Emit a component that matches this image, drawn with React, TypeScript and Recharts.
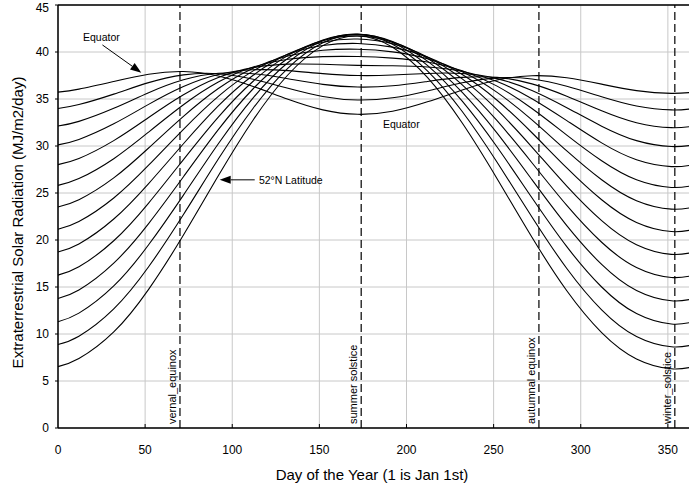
import React from "react";
import {
  LineChart,
  Line,
  XAxis,
  YAxis,
  CartesianGrid,
  ReferenceLine,
  ReferenceDot,
} from "recharts";

// Day of year at which each radiation value is given
const DAYS = [0, 12, 32, 52, 72, 92, 112, 132, 152, 172, 192, 212, 232, 252, 272, 292, 312, 332, 352, 365];

// Daily extraterrestrial radiation (MJ/m2/day), one list per northern latitude
const LAT_00 = [35.73, 36.05, 36.87, 37.64, 37.92, 37.45, 36.34, 34.97, 33.84, 33.37, 33.70, 34.70, 35.96, 37.02, 37.48, 37.26, 36.58, 35.89, 35.60, 35.73];
const LAT_04 = [33.99, 34.41, 35.52, 36.74, 37.57, 37.69, 37.10, 36.14, 35.27, 34.89, 35.13, 35.86, 36.72, 37.25, 37.13, 36.36, 35.24, 34.26, 33.84, 33.99];
const LAT_08 = [32.12, 32.62, 34.01, 35.67, 37.04, 37.74, 37.69, 37.16, 36.56, 36.27, 36.41, 36.87, 37.30, 37.30, 36.61, 35.30, 33.75, 32.48, 31.95, 32.12];
const LAT_12 = [30.12, 30.70, 32.36, 34.43, 36.33, 37.61, 38.11, 38.02, 37.70, 37.50, 37.55, 37.72, 37.71, 37.17, 35.91, 34.08, 32.11, 30.57, 29.94, 30.12];
const LAT_16 = [28.02, 28.67, 30.57, 33.03, 35.45, 37.29, 38.34, 38.71, 38.69, 38.58, 38.53, 38.41, 37.95, 36.86, 35.03, 32.70, 30.33, 28.54, 27.81, 28.02];
const LAT_20 = [25.81, 26.53, 28.65, 31.48, 34.39, 36.80, 38.40, 39.23, 39.51, 39.52, 39.35, 38.93, 38.01, 36.37, 33.99, 31.16, 28.43, 26.41, 25.59, 25.81];
const LAT_24 = [23.51, 24.29, 26.61, 29.79, 33.16, 36.12, 38.28, 39.58, 40.18, 40.29, 40.01, 39.28, 37.89, 35.70, 32.78, 29.48, 26.41, 24.18, 23.28, 23.51];
const LAT_28 = [21.14, 21.97, 24.47, 27.96, 31.78, 35.28, 37.99, 39.77, 40.69, 40.91, 40.52, 39.46, 37.60, 34.87, 31.41, 27.67, 24.28, 21.87, 20.90, 21.14];
const LAT_32 = [18.72, 19.58, 22.23, 26.00, 30.24, 34.26, 37.52, 39.78, 41.04, 41.38, 40.87, 39.48, 37.14, 33.86, 29.89, 25.73, 22.06, 19.50, 18.47, 18.72];
const LAT_36 = [16.26, 17.15, 19.92, 23.93, 28.56, 33.08, 36.89, 39.64, 41.23, 41.70, 41.06, 39.33, 36.51, 32.69, 28.22, 23.68, 19.76, 17.07, 16.01, 16.26];
const LAT_40 = [13.78, 14.69, 17.54, 21.75, 26.73, 31.74, 36.09, 39.33, 41.28, 41.87, 41.11, 39.03, 35.71, 31.37, 26.42, 21.53, 17.40, 14.62, 13.53, 13.78];
const LAT_44 = [11.31, 12.22, 15.11, 19.49, 24.78, 30.24, 35.13, 38.88, 41.19, 41.92, 41.02, 38.58, 34.77, 29.89, 24.49, 19.29, 15.00, 12.17, 11.06, 11.31];
const LAT_48 = [8.88, 9.77, 12.67, 17.15, 22.71, 28.61, 34.02, 38.29, 40.98, 41.85, 40.82, 38.00, 33.67, 28.27, 22.45, 16.97, 12.57, 9.73, 8.64, 8.88];
const LAT_52 = [6.53, 7.39, 10.22, 14.75, 20.53, 26.83, 32.77, 37.58, 40.68, 41.70, 40.51, 37.29, 32.44, 26.52, 20.29, 14.60, 10.15, 7.35, 6.30, 6.53];

const LATITUDES = [0, 4, 8, 12, 16, 20, 24, 28, 32, 36, 40, 44, 48, 52];
const SERIES = [LAT_00, LAT_04, LAT_08, LAT_12, LAT_16, LAT_20, LAT_24, LAT_28, LAT_32, LAT_36, LAT_40, LAT_44, LAT_48, LAT_52];

const X_TICKS = [0, 50, 100, 150, 200, 250, 300, 350];
const Y_TICKS = [0, 5, 10, 15, 20, 25, 30, 35, 40, 45];

// Seasonal markers (day of year, label)
const SEASON_DAYS = [70, 174, 276, 354];
const SEASON_LABELS = ["vernal_equinox", "summer solstice", "autumnal equinox", "winter_solstice"];

const rows = DAYS.map((day, i) => {
  const row: Record<string, number> = { day };
  LATITUDES.forEach((lat, k) => {
    row["lat" + lat] = SERIES[k][i];
  });
  return row;
});

const FONT = "'Liberation Sans', Arial, Helvetica, sans-serif";

function XTick(props: any) {
  const { x, y, payload } = props;
  return (
    <g>
      {payload.value !== 0 && (
        <line x1={x} y1={y} x2={x} y2={y - 4} stroke="#000" strokeWidth={1} />
      )}
      <text x={x} y={y + 26} textAnchor="middle" fontSize={12} fontFamily={FONT} fill="#000">
        {payload.value}
      </text>
    </g>
  );
}

function Arrow(props: any) {
  const { x1, y1, x2, y2 } = props;
  const ang = Math.atan2(y2 - y1, x2 - x1);
  const len = 11;
  const half = 4;
  const bx = x2 - len * Math.cos(ang);
  const by = y2 - len * Math.sin(ang);
  const px = -Math.sin(ang) * half;
  const py = Math.cos(ang) * half;
  return (
    <g>
      <line x1={x1} y1={y1} x2={bx} y2={by} stroke="#000" strokeWidth={1} />
      <polygon points={`${x2},${y2} ${bx + px},${by + py} ${bx - px},${by - py}`} fill="#000" />
    </g>
  );
}

function note(text: string, anchor: "start" | "middle") {
  return (p: any) => (
    <text
      x={p.cx}
      y={p.cy}
      dy="0.35em"
      textAnchor={anchor}
      fontSize={10.5}
      fontFamily={FONT}
      fill="#000"
    >
      {text}
    </text>
  );
}

function seasonLabel(text: string) {
  return (p: any) => {
    const vb = p.viewBox;
    const x = vb.x - 4;
    const y = vb.y + vb.height - 4;
    return (
      <text
        x={x}
        y={y}
        transform={`rotate(-90, ${x}, ${y})`}
        textAnchor="start"
        fontSize={11}
        fontFamily={FONT}
        fill="#000"
      >
        {text}
      </text>
    );
  };
}

export default function App() {
  return (
    <div style={{ position: "fixed", left: 0, top: 0, width: 689, height: 490, overflow: "hidden", background: "#fff" }}>
      <LineChart
        width={700}
        height={490}
        data={rows}
        margin={{ top: 5, right: 6, bottom: 0, left: 0 }}
        style={{ fontFamily: FONT }}
      >
        <CartesianGrid stroke="#c8c8c8" strokeWidth={1} />
        <XAxis
          dataKey="day"
          type="number"
          domain={[0, 365]}
          ticks={X_TICKS}
          height={62}
          tickSize={0}
          tickMargin={0}
          tickLine={false}
          axisLine={{ stroke: "#000", strokeWidth: 1.5 }}
          tick={<XTick />}
          label={{
            content: (p: any) => {
              const vb = p.viewBox;
              return (
                <text
                  x={vb.x + vb.width / 2 - 4}
                  y={vb.y + 52}
                  textAnchor="middle"
                  fontSize={15}
                  fontFamily={FONT}
                  fill="#000"
                >
                  Day of the Year (1 is Jan 1st)
                </text>
              );
            },
          }}
        />
        <YAxis
          type="number"
          domain={[0, 45]}
          ticks={Y_TICKS}
          width={58}
          tickSize={3}
          tickMargin={6}
          tickLine={{ stroke: "#000" }}
          axisLine={{ stroke: "#000", strokeWidth: 1.5 }}
          tick={{ fontSize: 12, fill: "#000", fontFamily: FONT }}
          label={{
            content: (p: any) => {
              const vb = p.viewBox;
              const cx = vb.x + 18;
              const cy = vb.y + vb.height / 2 + 6;
              return (
                <text
                  x={cx}
                  y={cy}
                  dy="0.35em"
                  transform={`rotate(-90, ${cx}, ${cy})`}
                  textAnchor="middle"
                  fontSize={15}
                  fontFamily={FONT}
                  fill="#000"
                >
                  Extraterrestrial Solar Radiation (MJ/m2/day)
                </text>
              );
            },
          }}
        />
        <ReferenceLine y={45} stroke="#000" strokeWidth={1.5} />
        {SEASON_DAYS.map((d, i) => (
          <ReferenceLine
            key={"s" + d}
            x={d}
            stroke="#000"
            strokeWidth={1.2}
            strokeDasharray="8 4"
            label={{ content: seasonLabel(SEASON_LABELS[i]) }}
          />
        ))}
        {LATITUDES.map((lat) => (
          <Line
            key={lat}
            dataKey={"lat" + lat}
            type="natural"
            stroke="#000"
            strokeWidth={1.1}
            dot={false}
            activeDot={false}
            isAnimationActive={false}
          />
        ))}
        <ReferenceLine segment={[{ x: 25.5, y: 40.75 }, { x: 47.8, y: 37.8 }]} shape={Arrow} />
        <ReferenceDot x={24.9} y={41.56} r={0} shape={note("Equator", "middle")} />
        <ReferenceLine segment={[{ x: 112.9, y: 26.4 }, { x: 92.8, y: 26.4 }]} shape={Arrow} />
        <ReferenceDot x={115.3} y={26.4} r={0} shape={note("52°N Latitude", "start")} />
        <ReferenceDot x={197} y={32.35} r={0} shape={note("Equator", "middle")} />
      </LineChart>
    </div>
  );
}
